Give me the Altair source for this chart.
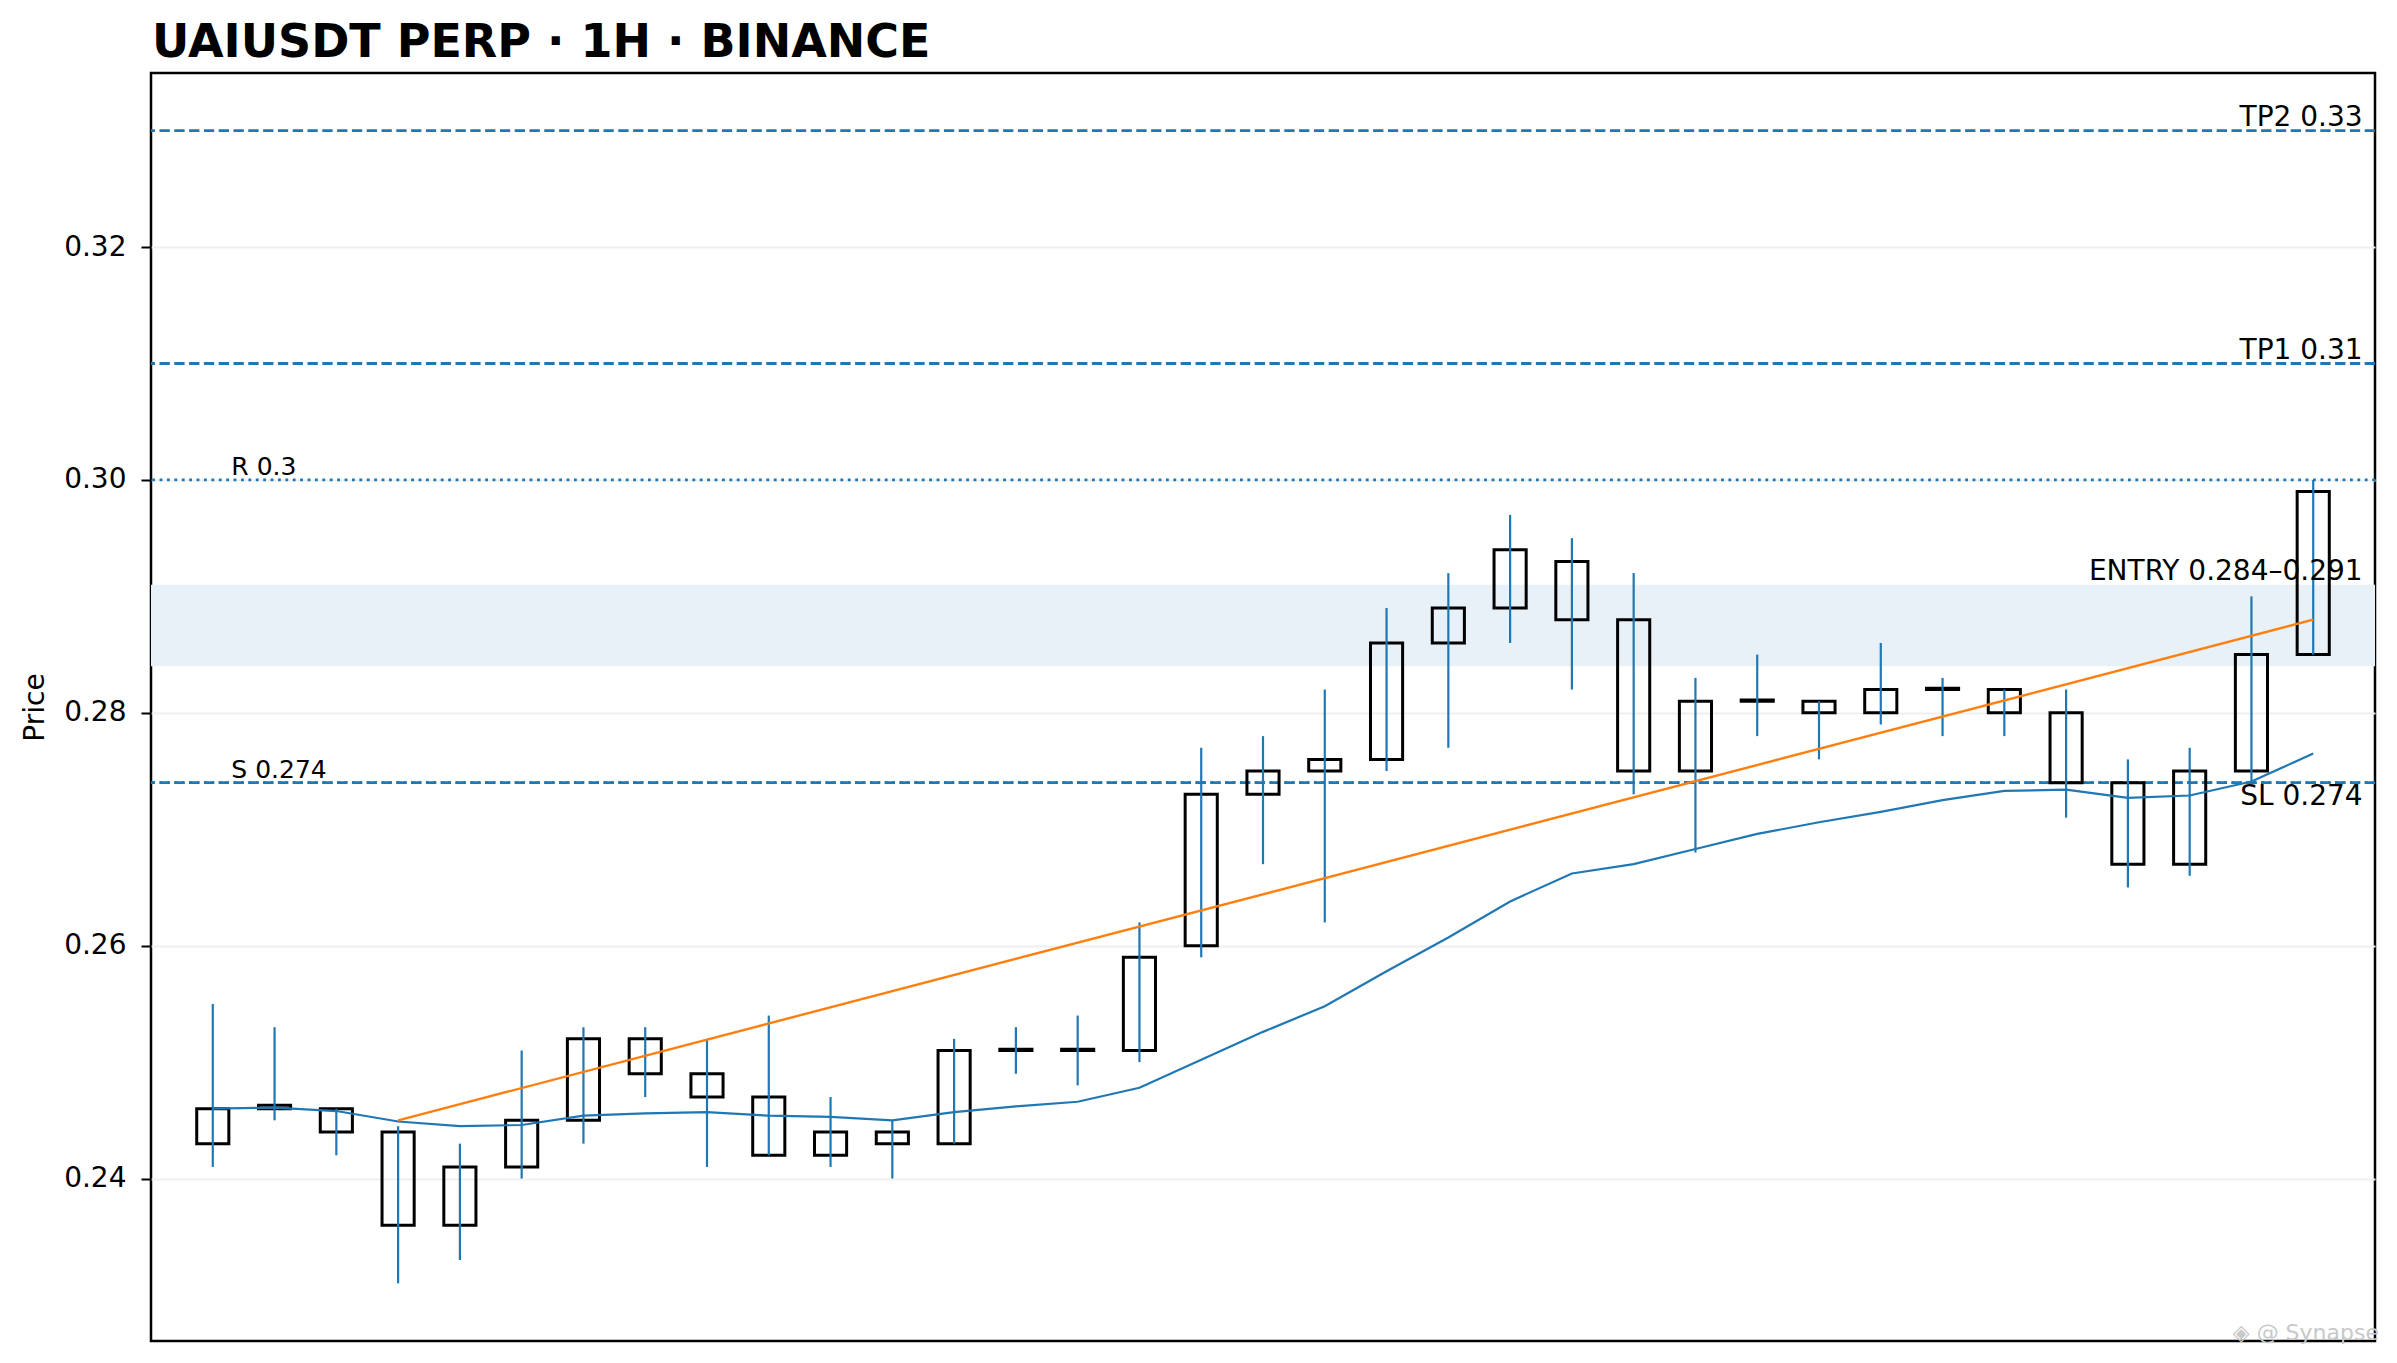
import altair as alt
import pandas as pd

# ---- data ----
idx = list(range(35))
opens = [0.243, 0.246, 0.246, 0.244, 0.236, 0.241, 0.245, 0.252, 0.249, 0.247,
         0.242, 0.244, 0.243, 0.251, 0.251, 0.251, 0.260, 0.273, 0.275, 0.276,
         0.286, 0.289, 0.293, 0.288, 0.275, 0.281, 0.281, 0.280, 0.282, 0.282,
         0.280, 0.274, 0.267, 0.275, 0.285]
closes = [0.246, 0.2463, 0.244, 0.236, 0.241, 0.245, 0.252, 0.249, 0.247, 0.242,
          0.244, 0.243, 0.251, 0.2511, 0.2511, 0.259, 0.273, 0.275, 0.276, 0.286,
          0.289, 0.294, 0.288, 0.275, 0.281, 0.2811, 0.280, 0.282, 0.2821, 0.280,
          0.274, 0.267, 0.275, 0.285, 0.299]
highs = [0.255, 0.253, 0.246, 0.2445, 0.243, 0.251, 0.253, 0.253, 0.252, 0.254,
         0.247, 0.245, 0.252, 0.253, 0.254, 0.262, 0.277, 0.278, 0.282, 0.289,
         0.292, 0.297, 0.295, 0.292, 0.283, 0.285, 0.281, 0.286, 0.283, 0.282,
         0.282, 0.276, 0.277, 0.290, 0.300]
lows = [0.241, 0.245, 0.242, 0.231, 0.233, 0.240, 0.243, 0.247, 0.241, 0.242,
        0.241, 0.240, 0.243, 0.249, 0.248, 0.250, 0.259, 0.267, 0.262, 0.275,
        0.277, 0.286, 0.282, 0.273, 0.268, 0.278, 0.276, 0.279, 0.278, 0.278,
        0.271, 0.265, 0.266, 0.274, 0.285]
ema = [0.2460, 0.2461, 0.2458, 0.2449, 0.2445, 0.2446, 0.2454, 0.2456, 0.2457, 0.2454,
       0.2453, 0.2450, 0.2457, 0.2462, 0.2466, 0.2478, 0.2502, 0.2526, 0.2548, 0.2578,
       0.2607, 0.2638, 0.2662, 0.2670, 0.2683, 0.2696, 0.2706, 0.2715, 0.2725, 0.2733,
       0.2734, 0.2727, 0.2729, 0.2741, 0.2765]

trend_x = [3, 34]
trend_y = [0.245, 0.288]

tp_levels = [0.33, 0.31]
sl_level = [0.274]
sr_levels = [0.30, 0.274]
entry_lo, entry_hi = 0.284, 0.291

right_labels = ["TP2 0.33", "TP1 0.31", "ENTRY 0.284\u20130.291"]
right_label_y = [0.33, 0.31, 0.291]
sl_label = ["SL 0.274"]
sl_label_y = [0.274]
left_labels = ["R 0.3", "S 0.274"]
left_label_y = [0.30, 0.274]

TITLE = "UAIUSDT PERP \u00b7 1H \u00b7 BINANCE"
FONT = "DejaVu Sans"
BLUE = "#1f77b4"
ORANGE = "#ff7f0e"

candles = pd.DataFrame({"i": idx, "open": opens, "close": closes,
                        "high": highs, "low": lows, "ema": ema})
trend = pd.DataFrame({"i": trend_x, "v": trend_y})

xs = alt.Scale(domain=[-1, 35], nice=False, zero=False)
ys = alt.Scale(domain=[0.22605, 0.33495], nice=False, zero=False)
yaxis = alt.Axis(values=[0.24, 0.26, 0.28, 0.30, 0.32], format=".2f", title="Price",
                 grid=True, gridColor="#efefef", gridWidth=2, domain=False,
                 ticks=True, tickSize=10, tickWidth=2, tickColor="black",
                 labelFont=FONT, labelFontSize=28, labelColor="black", labelPadding=15,
                 titleFont=FONT, titleFontSize=28, titleFontWeight="normal",
                 titleColor="black", titlePadding=14)


def Y(field):
    return alt.Y(field, type="quantitative", scale=ys, axis=yaxis)


def X(field):
    return alt.X(field, type="quantitative", scale=xs, axis=None)


band = alt.Chart(pd.DataFrame({"lo": [entry_lo], "hi": [entry_hi]})).mark_rect(
    color="#e8f0f8").encode(y=Y("lo"), y2="hi")

tp_rules = alt.Chart(pd.DataFrame({"v": tp_levels})).mark_rule(
    color=BLUE, strokeWidth=2.8, strokeDash=[10.3, 4.5]).encode(y=Y("v"))
sl_rule = alt.Chart(pd.DataFrame({"v": sl_level})).mark_rule(
    color=BLUE, strokeWidth=2.8, strokeDash=[10.3, 4.5]).encode(y=Y("v"))
sr_rules = alt.Chart(pd.DataFrame({"v": sr_levels})).mark_rule(
    color=BLUE, strokeWidth=2.8, strokeDash=[2.8, 4.6]).encode(y=Y("v"))

base = alt.Chart(candles)
bodies = base.transform_calculate(
    xl="datum.i - 0.26", xr="datum.i + 0.26",
    blo="min(datum.open, datum.close)", bhi="max(datum.open, datum.close)"
).mark_rect(fillOpacity=0, stroke="black", strokeWidth=3).encode(
    x=X("xl"), x2="xr", y=Y("blo"), y2="bhi")
wicks = base.mark_rule(color=BLUE, strokeWidth=2.2).encode(
    x=X("i"), y=Y("low"), y2="high")
ema_line = base.mark_line(color=BLUE, strokeWidth=2.2).encode(x=X("i"), y=Y("ema"))
trend_line = alt.Chart(trend).mark_line(color=ORANGE, strokeWidth=2.4).encode(
    x=X("i"), y=Y("v"))

rlab = alt.Chart(pd.DataFrame({"t": right_labels, "v": right_label_y, "x": [34.8] * 3})).mark_text(
    align="right", baseline="alphabetic", dy=-5, font=FONT, fontSize=28, color="black"
).encode(x=X("x"), y=Y("v"), text="t:N")
sllab = alt.Chart(pd.DataFrame({"t": sl_label, "v": sl_label_y, "x": [34.8]})).mark_text(
    align="right", baseline="alphabetic", dy=22, font=FONT, fontSize=28, color="black"
).encode(x=X("x"), y=Y("v"), text="t:N")
llab = alt.Chart(pd.DataFrame({"t": left_labels, "v": left_label_y, "x": [0.3, 0.3]})).mark_text(
    align="left", baseline="alphabetic", dy=-5, font=FONT, fontSize=25, color="black"
).encode(x=X("x"), y=Y("v"), text="t:N")

title_mark = alt.Chart(pd.DataFrame({"t": [TITLE]})).mark_text(
    align="left", baseline="alphabetic", font=FONT, fontSize=46, fontWeight="bold",
    color="black"
).encode(x=alt.value(1), y=alt.value(-16), text="t:N")

watermark = alt.Chart(pd.DataFrame({"t": ["\u25c8 @ Synapse"]})).mark_text(
    align="right", baseline="middle", font=FONT, fontSize=22, color="#c8c8c8"
).encode(x=alt.value(2228), y=alt.value(1260), text="t:N")

chart = alt.layer(
    band, tp_rules, sr_rules, sl_rule, bodies, wicks, ema_line, trend_line,
    rlab, sllab, llab, title_mark, watermark
).properties(
    width=2224, height=1268,
    background="white",
    autosize=alt.AutoSizeParams(type="none"),
    padding={"left": 143, "top": 65, "right": 14, "bottom": 10},
).configure_view(stroke="black", strokeWidth=2.5)

chart.save("out.html", embed_options={"renderer": "svg", "actions": False})
